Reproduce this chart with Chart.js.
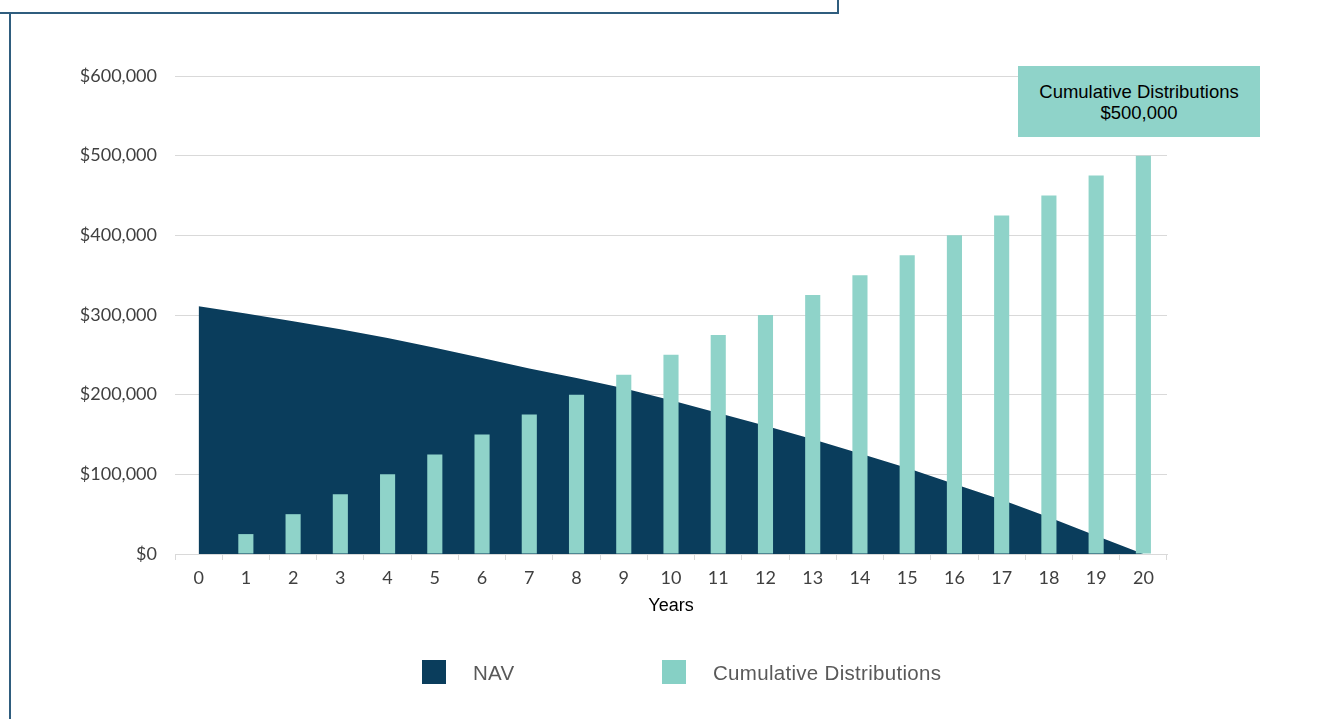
<!DOCTYPE html>
<html>
<head>
<meta charset="utf-8">
<script src="https://cdn.jsdelivr.net/npm/chart.js@4.4.1/dist/chart.umd.min.js"></script>
<style>
  html, body { margin: 0; padding: 0; background: #ffffff; }
  #wrap { position: relative; width: 1341px; height: 719px; overflow: hidden; }
  #c { position: absolute; left: 0; top: 0; }
  .frame { position: absolute; background: #2f5d7e; }
  #anno { position: absolute; left: 1018px; top: 66px; width: 242px; height: 71px; background: #8fd3c9;
          font-family: "Liberation Sans", Arial, sans-serif; font-size: 18.5px; line-height: 21px; color: #000;
          text-align: center; box-sizing: border-box; padding-top: 14.5px; }
  .lg-box { position: absolute; width: 24px; height: 24px; top: 660px; }
  .lg-txt { position: absolute; top: 660px; height: 25px; line-height: 25px; font-family: "Liberation Sans", Arial, sans-serif;
            font-size: 20.5px; letter-spacing: 0.3px; color: #595959; white-space: nowrap; }
</style>
</head>
<body>
<div id="wrap">
  <canvas id="c" width="1341" height="719"></canvas>
  <div class="frame" style="left:0;top:12px;width:839px;height:1.5px;"></div>
  <div class="frame" style="left:837px;top:0;width:1.5px;height:13px;"></div>
  <div class="frame" style="left:9px;top:12px;width:1.5px;height:707px;"></div>
  <div id="anno"></div>
  <div id="legend"></div>
</div>
<script>
const years = ['0','1','2','3','4','5','6','7','8','9','10','11','12','13','14','15','16','17','18','19','20'];
const navValues = [311000, 302000, 292000, 282000, 271000, 259000, 246000, 233000, 221000, 208000, 193000,
                   177000, 161000, 144000, 126000, 108000, 88000, 68000, 46000, 23000, 0];
const distValues = [0, 25000, 50000, 75000, 100000, 125000, 150000, 175000, 200000, 225000, 250000,
                    275000, 300000, 325000, 350000, 375000, 400000, 425000, 450000, 475000, 500000];
const seriesNames = ['NAV', 'Cumulative Distributions'];
const xTitle = 'Years';
const annotationLines = ['Cumulative Distributions', '$500,000'];
const yMin = 0, yMax = 600000, yStep = 100000;

const navColor = '#0a3d5c';
const distColor = '#8fd3c9';
const legendDistColor = '#86d0c5';

const tickFont = { family: 'Lato, "Open Sans", sans-serif', size: 18 };

new Chart(document.getElementById('c'), {
  type: 'bar',
  data: {
    labels: years,
    datasets: [
      {
        type: 'bar',
        label: seriesNames[1],
        data: distValues,
        backgroundColor: distColor,
        borderWidth: 0,
        barPercentage: 0.32,
        categoryPercentage: 1.0,
        order: 0
      },
      {
        type: 'line',
        label: seriesNames[0],
        data: navValues,
        backgroundColor: navColor,
        borderColor: navColor,
        borderWidth: 0,
        pointRadius: 0,
        fill: 'origin',
        tension: 0,
        order: 1
      }
    ]
  },
  options: {
    responsive: false,
    animation: false,
    layout: { padding: { left: 0, right: 174, top: 76, bottom: 102 } },
    plugins: { legend: { display: false }, tooltip: { enabled: false } },
    scales: {
      x: {
        offset: true,
        grid: { display: true, drawOnChartArea: false, drawTicks: true, tickLength: 6, color: '#d9d9d9', offset: true },
        border: { display: true, color: '#d9d9d9', width: 1 },
        ticks: { color: '#404040', font: tickFont, padding: 7, maxRotation: 0, autoSkip: false },
        title: { display: true, text: xTitle, color: '#000', font: { family: '"Liberation Sans", Arial, sans-serif', size: 18 }, padding: { top: 0, bottom: 0 } },
        afterFit: (s) => { s.height = 63; }
      },
      y: {
        min: yMin, max: yMax,
        grid: { color: '#d9d9d9', drawTicks: false, lineWidth: 1 },
        border: { display: false },
        ticks: {
          stepSize: yStep, padding: 18, color: '#404040', font: tickFont,
          callback: (v) => '$' + Number(v).toLocaleString('en-US')
        },
        afterFit: (s) => { s.width = 175; }
      }
    }
  }
});

document.getElementById('anno').innerHTML = annotationLines.map(t => '<div>' + t + '</div>').join('');
const lg = document.getElementById('legend');
const items = [
  { name: seriesNames[0], color: navColor, boxX: 422, txtX: 473 },
  { name: seriesNames[1], color: legendDistColor, boxX: 662, txtX: 713 }
];
items.forEach(it => {
  const b = document.createElement('div'); b.className = 'lg-box'; b.style.left = it.boxX + 'px'; b.style.background = it.color; lg.appendChild(b);
  const t = document.createElement('div'); t.className = 'lg-txt'; t.style.left = it.txtX + 'px'; t.textContent = it.name; lg.appendChild(t);
});
</script>
</body>
</html>
